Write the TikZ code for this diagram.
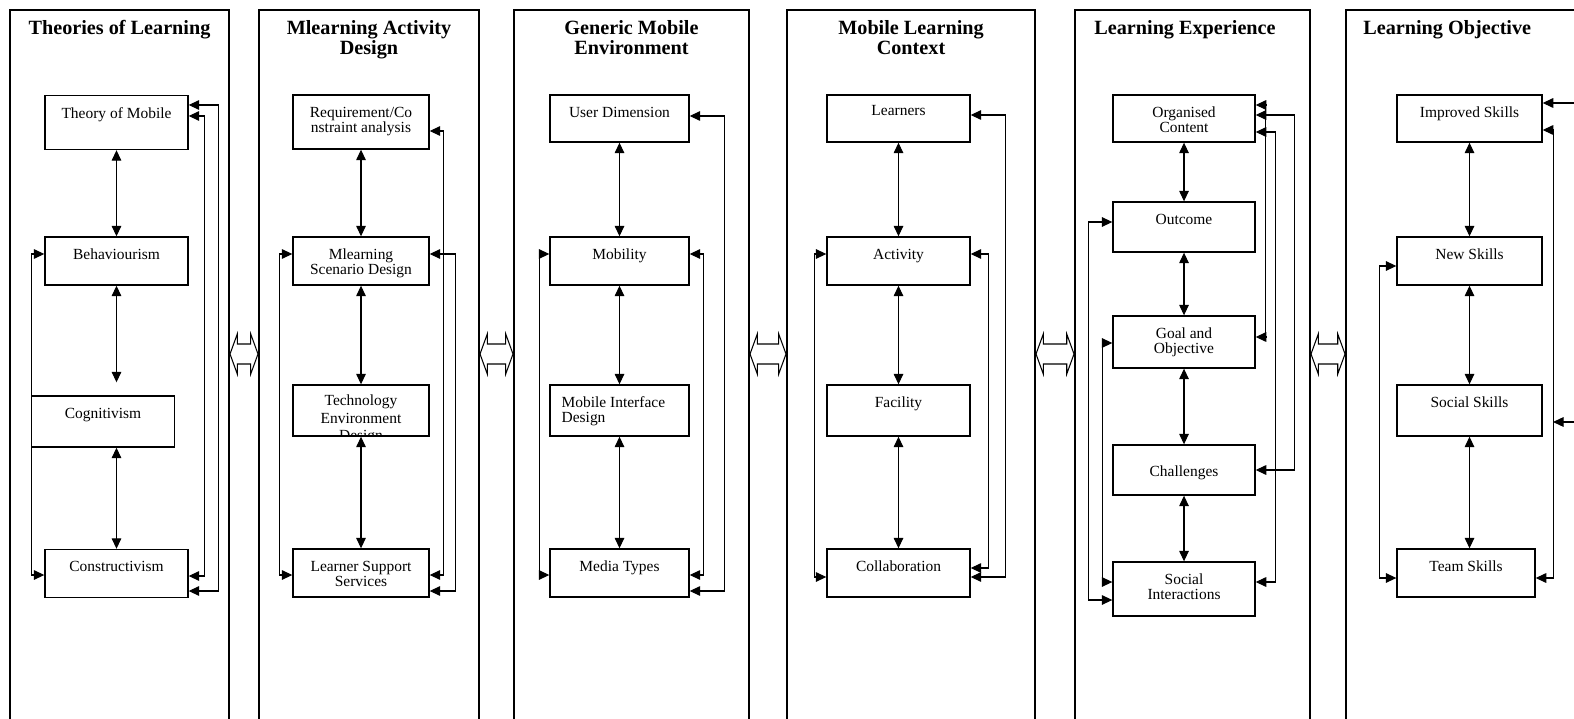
\documentclass[tikz,border=0pt]{standalone}
\usepackage{fontspec}
\setmainfont{Liberation Serif}
\usetikzlibrary{shapes, arrows.meta, positioning}

\begin{document}
\begin{tikzpicture}[
        x=0.02cm, y=-0.02cm,
        frame/.style={draw, line width=0.8pt},
        head/.style={anchor=north, align=center, inner sep=0pt, font=\fontsize{11.5}{11.5}\selectfont\bfseries},
        box/.style={draw, line width=0.8pt, minimum width=2.86cm, minimum height=0.96cm, inner sep=0pt},
        boxtext/.style={anchor=north, align=center, inner sep=0pt, yshift=-7pt, font=\fontsize{8.8}{8.5}\selectfont},
        link/.style={line width=0.6pt, {Triangle[length=6pt,width=5.5pt]}-{Triangle[length=6pt,width=5.5pt]}},
        arr/.style={line width=0.6pt, -{Triangle[length=6pt,width=5.5pt]}},
        twin/.style={double arrow, draw, line width=0.6pt, inner xsep=0pt, inner ysep=0.19cm,
            double arrow head extend=0.2cm, double arrow tip angle=140}
    ]
        \useasboundingbox (0,0) rectangle (1574,719);
        \clip (0,0) rectangle (1574,719);

        % Column frames, open at the bottom
        \draw[frame] (10,740) |- (229,10) -- (229,740);
        \draw[frame] (259,740) |- (479,10) -- (479,740);
        \draw[frame] (514,740) |- (749,10) -- (749,740);
        \draw[frame] (787,740) |- (1035,10) -- (1035,740);
        \draw[frame] (1075,740) |- (1310,10) -- (1310,740);
        \draw[frame] (1346,740) |- (1640,10) -- (1640,740);

        % Headings
        \node[head] (h1) at (119.5,20) {Theories of Learning};
        \node[head] (h2) at (369,20) {Mlearning Activity\\Design};
        \node[head] (h3) at (631.5,20) {Generic Mobile\\Environment};
        \node[head] (h4) at (911,20) {Mobile Learning\\Context};
        \node[head] (h5) at (1185,20) {Learning Experience};
        \node[head, anchor=north west] (h6) at (1363,20) {Learning Objective};

        % Links between columns
        \node[twin, minimum height=0.56cm] (j1) at (244,354) {};
        \node[twin, minimum height=0.66cm] (j2) at (496.5,354) {};
        \node[twin, minimum height=0.72cm] (j3) at (768,354) {};
        \node[twin, minimum height=0.76cm] (j4) at (1055,354) {};
        \node[twin, minimum height=0.68cm] (j5) at (1328,354) {};

        % Theories of Learning
        \node[box, minimum height=1.08cm, label={[boxtext]north:Theory of Mobile}] (theo) at (116.5,122.5) {};
        \node[box, label={[boxtext]north:Behaviourism}] (behav) at (116.5,261) {};
        \node[box, minimum height=1.02cm, label={[boxtext]north:Cognitivism}] (cogn) at (103,421.5) {};
        \node[box, label={[boxtext]north:Constructivism}] (constr) at (116.5,573.5) {};

        \draw[link] (theo) -- (behav);
        \draw[link, shorten >=0.26cm] (behav.south) -- (behav.south |- cogn.north);
        \draw[link] (constr.north |- cogn.south) -- (constr);
        \draw[link] (behav.west |- 0,254) -- ++(-13,0) |- (constr.west |- 0,575);
        \draw[link] (theo.east |- 0,105) -- ++(30,0) |- (constr.east |- 0,591);
        \draw[link] (theo.east |- 0,116) -- ++(16,0) |- (constr.east |- 0,576);

        % Mlearning Activity Design
        \node[box, minimum width=2.72cm, minimum height=1.08cm, label={[boxtext]north:Requirement/Co\\nstraint analysis}] (req) at (361,122) {};
        \node[box, minimum width=2.72cm, label={[boxtext]north:Mlearning\\Scenario Design}] (scen) at (361,261) {};
        \node[box, minimum width=2.72cm, minimum height=1.02cm] (tech) at (361,410.5) {};
        \begin{scope}
            \clip (tech.south west) rectangle (tech.north east);
            \node[boxtext, yshift=1pt, font=\fontsize{8.8}{9.8}\selectfont] (techtext) at (tech.north) {Technology\\Environment\\Design};
        \end{scope}
        \node[box, minimum width=2.72cm, label={[boxtext]north:Learner Support\\Services}] (supp) at (361,573) {};

        \draw[link] (req) -- (scen);
        \draw[link] (scen) -- (tech);
        \draw[link] (tech) -- (supp);
        \draw[link] (scen.west |- 0,254) -- ++(-13,0) |- (supp.west |- 0,575);
        \draw[link] (req.east |- 0,131) -- ++(14,0) |- (supp.east |- 0,575);
        \draw[link] (scen.east |- 0,254) -- ++(26,0) |- (supp.east |- 0,591);

        % Generic Mobile Environment
        \node[box, minimum width=2.78cm, minimum height=0.94cm, label={[boxtext]north:User Dimension}] (user) at (619.5,118.5) {};
        \node[box, minimum width=2.78cm, label={[boxtext]north:Mobility}] (mob) at (619.5,261) {};
        \node[box, minimum width=2.78cm, minimum height=1.02cm,
            label={[boxtext, anchor=north west, align=left, xshift=12*0.02cm]north west:Mobile Interface\\Design}] (iface) at (619.5,410.5) {};
        \node[box, minimum width=2.78cm, label={[boxtext]north:Media Types}] (media) at (619.5,573) {};

        \draw[link] (user) -- (mob);
        \draw[link] (mob) -- (iface);
        \draw[link] (iface) -- (media);
        \draw[link] (mob.west |- 0,254) -- ++(-10,0) |- (media.west |- 0,575);
        \draw[link] (mob.east |- 0,254) -- ++(14,0) |- (media.east |- 0,575);
        \draw[link] (user.east |- 0,116) -- ++(35,0) |- (media.east |- 0,591);

        % Mobile Learning Context
        \node[box, minimum height=0.94cm, label={[boxtext, yshift=1pt]north:Learners}] (lrn) at (898.5,118.5) {};
        \node[box, label={[boxtext]north:Activity}] (act) at (898.5,261) {};
        \node[box, minimum height=1.02cm, label={[boxtext]north:Facility}] (fac) at (898.5,410.5) {};
        \node[box, label={[boxtext]north:Collaboration}] (coll) at (898.5,573) {};

        \draw[link] (lrn) -- (act);
        \draw[link] (act) -- (fac);
        \draw[link] (fac) -- (coll);
        \draw[link] (act.west |- 0,254) -- ++(-12,0) |- (coll.west |- 0,577);
        \draw[link] (act.east |- 0,254) -- ++(18,0) |- (coll.east |- 0,568);
        \draw[link] (lrn.east |- 0,115) -- ++(35,0) |- (coll.east |- 0,577);

        % Learning Experience
        \node[box, minimum width=2.84cm, minimum height=0.94cm, label={[boxtext]north:Organised\\Content}] (org) at (1184,118.5) {};
        \node[box, minimum width=2.84cm, minimum height=1.0cm, label={[boxtext]north:Outcome}] (outc) at (1184,227) {};
        \node[box, minimum width=2.84cm, minimum height=1.04cm, label={[boxtext]north:Goal and\\Objective}] (goal) at (1184,342) {};
        \node[box, minimum width=2.84cm, minimum height=1.0cm, label={[boxtext, yshift=-5pt]north:Challenges}] (chal) at (1184,470) {};
        \node[box, minimum width=2.84cm, minimum height=1.08cm, label={[boxtext]north:Social\\Interactions}] (soc) at (1184,589) {};

        \draw[link] (org) -- (outc);
        \draw[link] (outc) -- (goal);
        \draw[link] (goal) -- (chal);
        \draw[link] (chal) -- (soc);
        \draw[link] (outc.west |- 0,222) -- ++(-24,0) |- (soc.west |- 0,600);
        \draw[link] (goal.west |- 0,343) -- ++(-10,0) |- (soc.west |- 0,582);
        \draw[link] (org.east |- 0,105) -- ++(10,0) |- (goal.east |- 0,337);
        \draw[link] (org.east |- 0,132) -- ++(20,0) |- (soc.east |- 0,582);
        \draw[link] (org.east |- 0,115) -- ++(39,0) |- (chal.east |- 0,470);

        % Learning Objective
        \node[box, minimum width=2.9cm, minimum height=0.94cm, label={[boxtext]north:Improved Skills}] (impr) at (1469.5,118.5) {};
        \node[box, minimum width=2.9cm, label={[boxtext]north:New Skills}] (news) at (1469.5,261) {};
        \node[box, minimum width=2.9cm, minimum height=1.02cm, label={[boxtext]north:Social Skills}] (socs) at (1469.5,410.5) {};
        \node[box, minimum width=2.76cm, label={[boxtext]north:Team Skills}] (team) at (1466,573) {};

        \draw[link] (impr) -- (news);
        \draw[link] (news) -- (socs);
        \draw[link] (socs.south) -- (socs.south |- team.north);
        \draw[link] (news.west |- 0,266) -- ++(-17,0) |- (team.west |- 0,578);
        \draw[link] (impr.east |- 0,130) -- ++(11,0) |- (team.east |- 0,578);

        % Incoming from the right
        \coordinate (in1) at (1590,103);
        \coordinate (in2) at (1590,422);
        \coordinate (join) at (1553,422);
        \draw[arr] (in1) -- (impr.east |- in1);
        \draw[arr] (in2) -- (join);

    \end{tikzpicture}
\end{document}
